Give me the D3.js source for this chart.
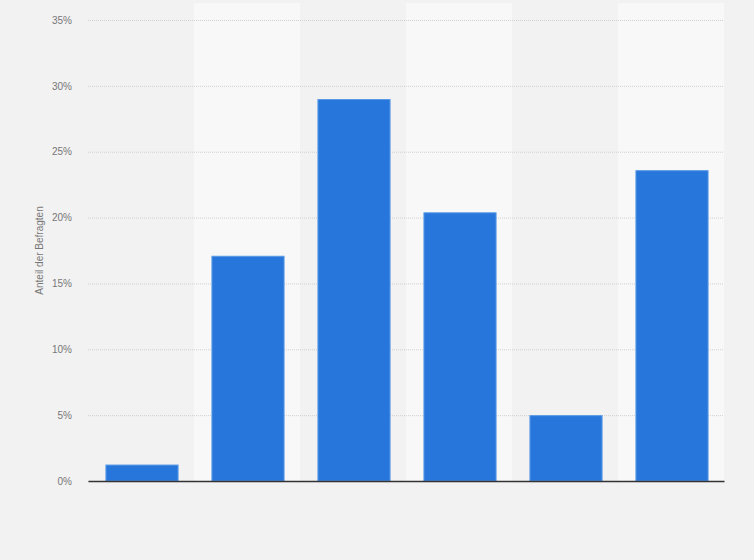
<!DOCTYPE html>
<html>
<head>
<meta charset="utf-8">
<script src="https://cdn.jsdelivr.net/npm/d3@7"></script>
<style>
  html, body { margin: 0; padding: 0; background: #f2f2f2; }
  svg { display: block; font-family: "Liberation Sans", Arial, sans-serif; }
</style>
</head>
<body>
<svg id="survey-bar-chart"></svg>
<script>
const CHART_WIDTH = 754;
const CHART_HEIGHT = 560;

const CHART_PADDING = {
    top: 20,
    bottom: 79,
    start: 88,
    end: 30
};

// categories carry no visible labels in the chart
const categories = ["A", "B", "C", "D", "E", "F"];
const shares = [1.25, 17.1, 29.0, 20.4, 5.0, 23.6];
const yTicks = [0, 5, 10, 15, 20, 25, 30, 35];

const chart = d3.select("#survey-bar-chart")
    .attr("width", CHART_WIDTH)
    .attr("height", CHART_HEIGHT);

const bandScale = d3.scaleBand()
    .domain(categories)
    .range([CHART_PADDING.start, CHART_WIDTH - CHART_PADDING.end])
    .padding(0);

const xScale = d3.scaleBand()
    .domain(categories)
    .range([CHART_PADDING.start + 1, CHART_WIDTH - CHART_PADDING.end + 1])
    .paddingInner(0.31)
    .paddingOuter(0.155);

const yScale = d3.scaleLinear()
    .domain([0, 35])
    .range([CHART_HEIGHT - CHART_PADDING.bottom, CHART_PADDING.top]);

// alternating column bands
chart.append("g")
    .selectAll("rect")
    .data(categories)
    .enter()
    .append("rect")
        .attr("x", d => bandScale(d))
        .attr("y", 3)
        .attr("width", bandScale.bandwidth())
        .attr("height", yScale(0) - 3)
        .attr("fill", (d, i) => i % 2 === 1 ? "#f8f8f8" : "#f2f2f2");

// gridlines
const yAxis = d3.axisLeft(yScale)
    .tickValues(yTicks)
    .tickFormat(d => d + "%")
    .tickSize(-(CHART_WIDTH - CHART_PADDING.start - CHART_PADDING.end))
    .tickPadding(16);

const yAxisGroup = chart.append("g")
    .attr("transform", `translate(${CHART_PADDING.start}, 0)`)
    .call(yAxis);

yAxisGroup.select(".domain").remove();
yAxisGroup.selectAll(".tick line")
    .attr("stroke", "#d0d0d0")
    .attr("stroke-dasharray", "1,1");
yAxisGroup.selectAll(".tick text")
    .attr("fill", "#777")
    .style("font-size", "10px");

chart.append("text")
    .attr("transform", "rotate(-90)")
    .attr("x", -(yScale(0) + yScale(35)) / 2)
    .attr("y", 43)
    .style("text-anchor", "middle")
    .style("font-size", "10px")
    .attr("fill", "#777")
    .text("Anteil der Befragten");

// bars
chart.append("g")
    .selectAll(".bar")
    .data(shares)
    .enter()
    .append("rect")
        .classed("bar", true)
        .attr("x", (d, i) => xScale(categories[i]) + 0.5)
        .attr("y", d => yScale(d) + 0.5)
        .attr("width", xScale.bandwidth() - 1)
        .attr("height", d => yScale(0) - yScale(d) - 0.5)
        .attr("fill", "#2776db")
        .attr("stroke", "#5a9ae6")
        .attr("stroke-width", 1);

// baseline
const xAxis = d3.axisBottom(bandScale)
    .tickSize(0)
    .tickFormat("");

const xAxisGroup = chart.append("g")
    .attr("transform", `translate(0, ${yScale(0)})`)
    .call(xAxis);

xAxisGroup.select(".domain")
    .attr("stroke", "#333")
    .attr("stroke-width", 1.5);
</script>
</body>
</html>
